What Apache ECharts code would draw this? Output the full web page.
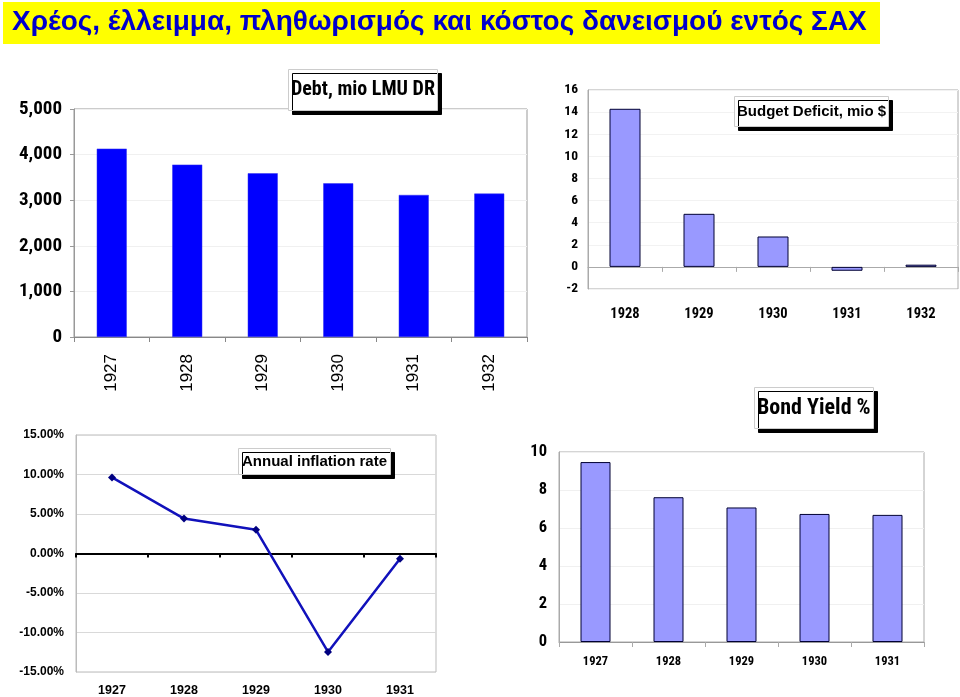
<!DOCTYPE html>
<html>
<head>
<meta charset="utf-8">
<script src="https://cdn.jsdelivr.net/npm/echarts@6/dist/echarts.min.js"></script>
<style>html,body{margin:0;padding:0;background:#fff;}#c{width:960px;height:697px;}</style>
</head>
<body>
<div id="c"></div>
<script>
// ---- data ----
var mainTitle = 'Χρέος, έλλειμμα, πληθωρισμός και κόστος δανεισμού εντός ΣΑΧ';

var debtTitle = 'Debt, mio LMU DR';
var debtYears = ['1927', '1928', '1929', '1930', '1931', '1932'];
var debtValues = [4130, 3780, 3590, 3370, 3115, 3145];

var deficitTitle = 'Budget Deficit, mio $';
var deficitYears = ['1928', '1929', '1930', '1931', '1932'];
var deficitValues = [14.3, 4.8, 2.75, -0.35, 0.2];

var inflationTitle = 'Annual inflation rate';
var inflationYears = ['1927', '1928', '1929', '1930', '1931'];
var inflationValues = [9.63, 4.42, 3.0, -12.46, -0.67];

var bondTitle = 'Bond Yield %';
var bondYears = ['1927', '1928', '1929', '1930', '1931'];
var bondValues = [9.47, 7.62, 7.08, 6.74, 6.69];

// ---- styles ----
var NARROW = "'Roboto Condensed', 'DejaVu Sans Condensed', sans-serif";
var SANS = "'Liberation Sans', Arial, 'DejaVu Sans', sans-serif";

function boxTitle(text, left, top, font, size, pad) {
  return {
    text: text, left: left, top: top, padding: pad,
    backgroundColor: '#ffffff', borderColor: '#cccccc', borderWidth: 1,
    shadowColor: '#000000', shadowOffsetX: 4, shadowOffsetY: 4, shadowBlur: 0,
    textStyle: { fontFamily: font, fontSize: size, fontWeight: 'bold', color: '#000000' }
  };
}

var chart = echarts.init(document.getElementById('c'), null, { renderer: 'canvas' });

var option = {
  animation: false,
  backgroundColor: '#ffffff',
  graphic: [{
    type: 'rect', left: 3, top: 2, z: -10,
    shape: { width: 877, height: 42 },
    style: { fill: '#ffff00' }
  }],
  title: [
    { text: mainTitle, left: 12, top: 8, padding: 0,
      textStyle: { fontFamily: SANS, fontSize: 28, fontWeight: 'bold', color: '#0000cc' } },
    boxTitle(debtTitle, 288, 69, NARROW, 20, [11, 3]),
    boxTitle(deficitTitle, 734, 96, SANS, 15, [8, 3]),
    boxTitle(inflationTitle, 238, 448, SANS, 15, [6, 4]),
    boxTitle(bondTitle, 754, 387, NARROW, 22, [10, 3])
  ],
  grid: [
    { left: 74, top: 109, width: 453, height: 228, show: true, borderColor: '#999999', borderWidth: 1 },
    { left: 588, top: 90, width: 370, height: 199, show: true, borderColor: '#aaaaaa', borderWidth: 1 },
    { left: 76, top: 435, width: 360, height: 238, show: true, borderColor: '#bbbbbb', borderWidth: 1 },
    { left: 559, top: 452, width: 365, height: 190, show: true, borderColor: '#aaaaaa', borderWidth: 1 }
  ],
  xAxis: [
    // 0 debt
    { type: 'category', gridIndex: 0, data: debtYears,
      axisLine: { lineStyle: { color: '#888888', width: 1 } },
      axisTick: { show: true, length: 5, lineStyle: { color: '#888888' } },
      axisLabel: { rotate: 90, margin: 17, fontFamily: SANS, fontSize: 17, color: '#000000' } },
    // 1 deficit labels
    { type: 'category', gridIndex: 1, data: deficitYears, position: 'bottom',
      axisLine: { show: false, onZero: false }, axisTick: { show: false },
      axisLabel: { margin: 18, fontFamily: NARROW, fontSize: 14.5, fontWeight: 'bold', color: '#000000' } },
    // 2 deficit zero line
    { type: 'category', gridIndex: 1, data: deficitYears, position: 'bottom',
      axisLine: { show: true, onZero: true, lineStyle: { color: '#aaaaaa', width: 1 } },
      axisTick: { show: true, length: 5, lineStyle: { color: '#aaaaaa' } },
      axisLabel: { show: false } },
    // 3 inflation labels
    { type: 'category', gridIndex: 2, data: inflationYears, position: 'bottom',
      axisLine: { show: false, onZero: false }, axisTick: { show: false },
      axisLabel: { margin: 12, fontFamily: SANS, fontSize: 12.5, fontWeight: 'bold', color: '#000000' } },
    // 4 inflation zero line
    { type: 'category', gridIndex: 2, data: inflationYears, position: 'bottom',
      axisLine: { show: true, onZero: true, lineStyle: { color: '#000000', width: 2 } },
      axisTick: { show: true, length: 4, lineStyle: { color: '#000000', width: 2 } },
      axisLabel: { show: false } },
    // 5 bond
    { type: 'category', gridIndex: 3, data: bondYears,
      axisLine: { lineStyle: { color: '#999999', width: 1 } },
      axisTick: { show: true, length: 5, lineStyle: { color: '#aaaaaa' } },
      axisLabel: { margin: 13, fontFamily: NARROW, fontSize: 12.5, fontWeight: 'bold', color: '#000000' } }
  ],
  yAxis: [
    { type: 'value', gridIndex: 0, min: 0, max: 5000, interval: 1000,
      axisLine: { show: true, lineStyle: { color: '#999999' } },
      axisTick: { show: true, length: 4, lineStyle: { color: '#999999' } },
      splitLine: { lineStyle: { color: '#f0f0f0' } },
      axisLabel: { margin: 12, fontFamily: NARROW, fontSize: 19, fontWeight: 'bold', color: '#000000',
        formatter: function (v) { return v.toLocaleString('en-US'); } } },
    { type: 'value', gridIndex: 1, min: -2, max: 16, interval: 2,
      axisLine: { show: true, lineStyle: { color: '#aaaaaa' } },
      axisTick: { show: false },
      splitLine: { lineStyle: { color: '#f2f2f2' } },
      axisLabel: { margin: 10, fontFamily: NARROW, fontSize: 13.5, fontWeight: 'bold', color: '#000000' } },
    { type: 'value', gridIndex: 2, min: -15, max: 15, interval: 5,
      axisLine: { show: true, lineStyle: { color: '#bbbbbb' } },
      axisTick: { show: false },
      splitLine: { lineStyle: { color: '#d9d9d9' } },
      axisLabel: { margin: 12, fontFamily: SANS, fontSize: 12, fontWeight: 'bold', color: '#000000',
        formatter: function (v) { return v.toFixed(2) + '%'; } } },
    { type: 'value', gridIndex: 3, min: 0, max: 10, interval: 2,
      axisLine: { show: true, lineStyle: { color: '#aaaaaa' } },
      axisTick: { show: false },
      splitLine: { lineStyle: { color: '#f0f0f0' } },
      axisLabel: { margin: 12, fontFamily: NARROW, fontSize: 16.5, fontWeight: 'bold', color: '#000000' } }
  ],
  series: [
    { type: 'bar', xAxisIndex: 0, yAxisIndex: 0, data: debtValues, barWidth: 30,
      itemStyle: { color: '#0000ff', borderColor: '#3333ee', borderWidth: 0.5 } },
    { type: 'bar', xAxisIndex: 1, yAxisIndex: 1, data: deficitValues, barWidth: 31,
      itemStyle: { color: '#9999ff', borderColor: '#000033', borderWidth: 1 } },
    { type: 'line', xAxisIndex: 3, yAxisIndex: 2, data: inflationValues,
      lineStyle: { color: '#1111bb', width: 2.5 },
      symbol: 'diamond', symbolSize: 8,
      itemStyle: { color: '#000080' } },
    { type: 'bar', xAxisIndex: 5, yAxisIndex: 3, data: bondValues, barWidth: 30,
      itemStyle: { color: '#9999ff', borderColor: '#000033', borderWidth: 1 } }
  ]
};
chart.setOption(option);
</script>
</body>
</html>
